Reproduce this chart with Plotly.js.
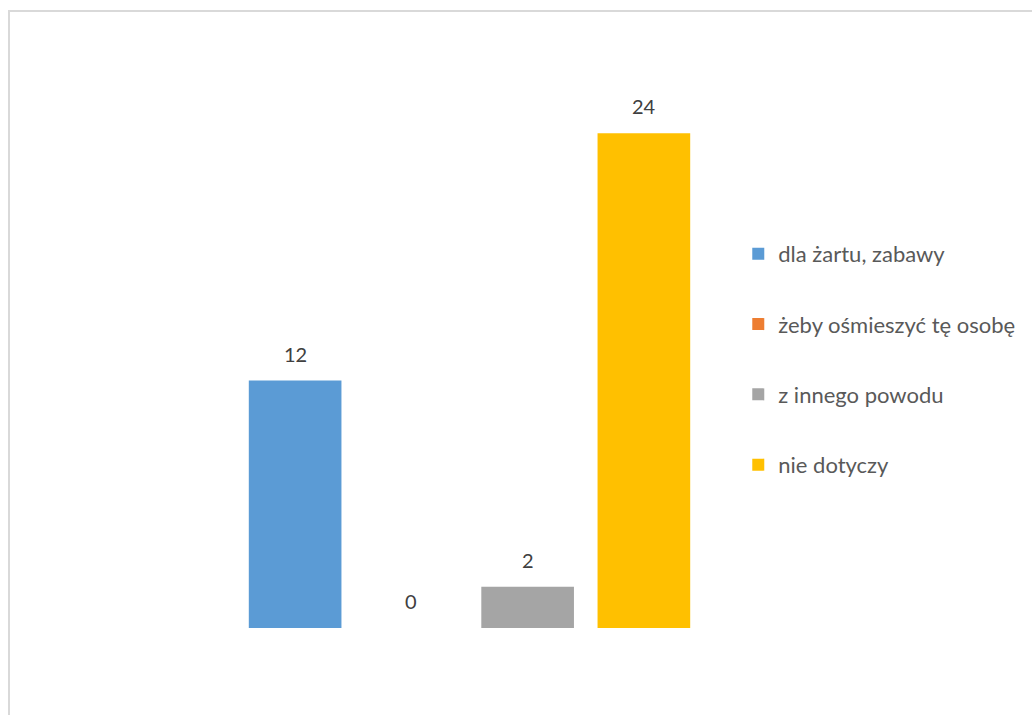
<!DOCTYPE html>
<html>
<head>
<meta charset="utf-8">
<script src="https://cdn.plot.ly/plotly-3.0.1.min.js"></script>
<style>
  html, body { margin: 0; padding: 0; background: #ffffff; overflow: hidden; }
  #frame { position: absolute; left: 8px; top: 10px; width: 1100px; height: 800px; border: 2px solid #d9d9d9; box-sizing: border-box; pointer-events: none; }
  #chart { position: absolute; left: 0; top: 0; width: 1032px; height: 715px; }
</style>
</head>
<body>
<div id="chart"></div>
<div id="frame"></div>
<script>
const categories = ["dla żartu, zabawy", "żeby ośmieszyć tę osobę", "z innego powodu", "nie dotyczy"];
const values = [12, 0, 2, 24];
const colors = ["#5b9bd5", "#ed7d31", "#a5a5a5", "#ffc000"];

const traces = categories.map((c, i) => ({
  type: "bar",
  name: c,
  x: [c],
  y: [values[i]],
  marker: { color: colors[i] },
  legendgroup: "g" + i,
  hoverinfo: "name+y"
}));

const annotations = categories.map((c, i) => ({
  x: c,
  y: values[i],
  xref: "x",
  yref: "y",
  text: String(values[i]),
  showarrow: false,
  yanchor: "middle",
  yshift: 27,
  font: { family: "Lato, 'Open Sans', sans-serif", size: 20, color: "#404040" }
}));

const layout = {
  width: 1032,
  height: 715,
  margin: { l: 237, r: 328, t: 92, b: 87, pad: 0 },
  paper_bgcolor: "#ffffff",
  plot_bgcolor: "#ffffff",
  barmode: "overlay",
  bargap: 0.203,
  showlegend: true,
  legend: {
    x: 1.078,
    xanchor: "left",
    y: 0.737,
    yanchor: "top",
    traceorder: "grouped",
    tracegroupgap: 38.7,
    font: { family: "Lato, 'Open Sans', sans-serif", size: 22, color: "#595959" },
    bgcolor: "rgba(0,0,0,0)"
  },
  xaxis: {
    type: "category",
    categoryorder: "array",
    categoryarray: categories,
    range: [-0.5, 3.5],
    showticklabels: false,
    showline: false,
    showgrid: false,
    zeroline: false,
    ticks: ""
  },
  yaxis: {
    range: [0, 26],
    showticklabels: false,
    showline: false,
    showgrid: false,
    zeroline: false,
    ticks: ""
  },
  annotations: annotations
};

Plotly.newPlot("chart", traces, layout, { displayModeBar: false, staticPlot: true });
</script>
</body>
</html>
